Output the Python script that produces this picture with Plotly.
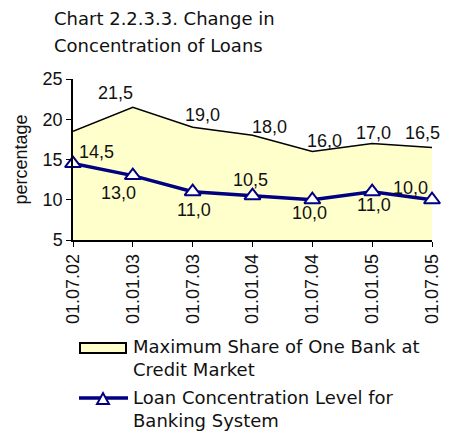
import plotly.graph_objects as go

categories = ["01.07.02", "01.01.03", "01.07.03", "01.01.04", "01.07.04", "01.01.05", "01.07.05"]
max_share = [18.5, 21.5, 19.0, 18.0, 16.0, 17.0, 16.5]
loan_conc = [14.5, 13.0, 11.0, 10.5, 10.0, 11.0, 10.0]
max_share_labels = ["", "21,5", "19,0", "18,0", "16,0", "17,0", "16,5"]
loan_conc_labels = ["14,5", "13,0", "11,0", "10,5", "10,0", "11,0", "10,0"]
y_ticks = [5, 10, 15, 20, 25]
series_names = ["Maximum Share of One Bank at<br>Credit Market",
                "Loan Concentration Level for<br>Banking System"]

# ---- layout geometry (pixels) ----
W, H = 451, 434
L, R, T, B = 73, 19, 79, 194
PW, PH = W - L - R, H - T - B


def px(x):
    return (x - L) / PW


def py(y):
    return (H - B - y) / PH


# label offsets (pixels) - styling only
area_off = [(0, 0), (-17, 14), (10, 12), (17, 8), (12, 10), (1, 10), (-10, 14)]
line_off = [(23, 12), (-14, -17), (1, -18), (-2, 16), (-3, -13), (2, -13), (-22, 12)]

TXT = "#111111"
label_font = dict(family="Liberation Sans", size=18, color=TXT)
NAVY = "#000080"
YELLOW = "#FFFFCC"

fig = go.Figure()
fig.add_trace(go.Scatter(
    x=categories, y=max_share, mode="lines", fill="tozeroy",
    fillcolor=YELLOW, line=dict(color="#000000", width=1.5),
    name=series_names[0], showlegend=False,
))
fig.add_trace(go.Scatter(
    x=categories, y=loan_conc, mode="lines+markers", cliponaxis=False,
    line=dict(color=NAVY, width=3.5),
    marker=dict(symbol="triangle-up", size=14, color="#FFFFFF",
                line=dict(color=NAVY, width=2)),
    name=series_names[1], showlegend=False,
))

annotations = []
for c, v, t, (dx, dy) in zip(categories, max_share, max_share_labels, area_off):
    if t:
        annotations.append(dict(x=c, y=v, text=t, showarrow=False, xshift=dx, yshift=dy,
                                font=label_font))
for c, v, t, (dx, dy) in zip(categories, loan_conc, loan_conc_labels, line_off):
    annotations.append(dict(x=c, y=v, text=t, showarrow=False, xshift=dx, yshift=dy,
                            font=label_font))

title_font = dict(family="DejaVu Sans", size=18, color=TXT)
for text, yc in [("Chart 2.2.3.3. Change in", 18), ("Concentration of Loans", 45)]:
    annotations.append(dict(text=text, xref="paper", yref="paper", x=px(52), y=py(yc),
                            xanchor="left", yanchor="middle", showarrow=False,
                            font=title_font))

# custom legend
leg_font = dict(family="DejaVu Sans", size=18, color=TXT)
for name, yc in zip(series_names, [358, 409]):
    annotations.append(dict(text=name, xref="paper", yref="paper", x=px(131), y=py(yc),
                            xanchor="left", yanchor="middle", align="left",
                            showarrow=False, font=leg_font))

shapes = [
    dict(type="rect", xref="paper", yref="paper", x0=px(80), x1=px(126),
         y0=py(343), y1=py(353), fillcolor=YELLOW, line=dict(color="#000000", width=2)),
    dict(type="line", xref="paper", yref="paper", x0=px(79), x1=px(128),
         y0=py(398), y1=py(398), line=dict(color=NAVY, width=3.5)),
    dict(type="path", xref="paper", yref="paper",
         path=f"M {px(97)},{py(404)} L {px(109)},{py(404)} L {px(103)},{py(393)} Z",
         fillcolor="#FFFFFF", line=dict(color=NAVY, width=2)),
]

fig.update_layout(
    width=W, height=H,
    margin=dict(l=L, r=R, t=T, b=B),
    paper_bgcolor="white", plot_bgcolor="white",
    showlegend=False,
    annotations=annotations,
    shapes=shapes,
    xaxis=dict(
        type="category", range=[0, len(categories) - 1], automargin=False,
        showgrid=False, showline=True, linecolor="#000000", linewidth=1.5,
        ticks="outside", ticklen=5, tickcolor="#000000", tickangle=-90,
        tickfont=dict(family="Liberation Sans", size=18, color=TXT),
        zeroline=False,
    ),
    yaxis=dict(
        range=[5, 25], tickvals=y_ticks, showgrid=False, automargin=False,
        showline=True, linecolor="#000000", linewidth=1.5,
        ticks="outside", ticklen=5, tickcolor="#000000",
        tickfont=dict(family="Liberation Sans", size=18, color=TXT),
        title=dict(text="percentage", standoff=10,
                   font=dict(family="Liberation Sans", size=18, color=TXT)),
        zeroline=False,
    ),
)

fig.write_html("out.html",
               config={"displayModeBar": False},
               post_script="document.body.style.margin='0';document.body.style.overflow='hidden';")
